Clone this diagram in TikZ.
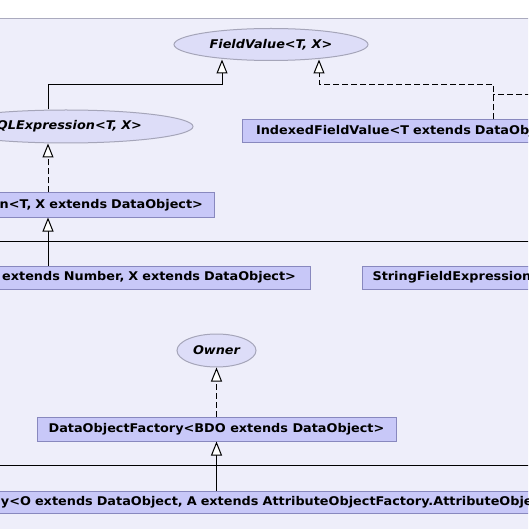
\documentclass[tikz,border=0pt]{standalone}
\usepackage{fontspec}
\setmainfont{DejaVu Sans}[FakeStretch=1.07]
\usetikzlibrary{arrows.meta,shapes.geometric}
\definecolor{bgc}{RGB}{238,238,250}
\definecolor{framec}{RGB}{170,170,190}
\definecolor{boxfill}{RGB}{200,200,248}
\definecolor{boxdraw}{RGB}{136,136,190}
\definecolor{ellfill}{RGB}{221,221,248}
\definecolor{elldraw}{RGB}{165,165,185}
\begin{document}
\begin{tikzpicture}[x=1pt,y=-1pt,
  font=\fontsize{12}{14}\selectfont\bfseries,
  umlbox/.style={rectangle, draw=boxdraw, fill=boxfill, line width=1pt, inner sep=0pt},
  umlif/.style={ellipse, draw=elldraw, fill=ellfill, line width=1pt, inner sep=0pt,
                font=\fontsize{12}{14}\selectfont\bfseries\itshape},
  plainline/.style={draw=black, line width=1pt},
  dashline/.style={plainline, dash pattern=on 6pt off 3pt},
  inh/.style={plainline, -{Triangle[length=14pt,width=11pt,fill=white]}},
  impl/.style={inh, dash pattern=on 6pt off 3pt}]
\useasboundingbox (0,0) rectangle (528,529);
\clip (0,0) rectangle (528,529);
\fill[white] (0,0) rectangle (528,529);
\fill[bgc] (-5,19) rectangle (540,540);
\draw[framec, line width=1pt] (-5,19) -- (540,19);

% nodes
\node[umlif, minimum width=194pt, minimum height=32pt] (fv) at (271,44.5) {FieldValue<T, X>};
\node[umlif, minimum width=254pt, minimum height=33pt, text width=152pt, align=right] (ql) at (66,126.5) {QLExpression<T, X>};
\node[umlbox, minimum width=502pt, minimum height=23pt, text width=474pt, align=left] (ifv) at (493,131.5) {IndexedFieldValue<T extends DataObject};
\node[umlbox, minimum width=332pt, minimum height=24pt, text width=310pt, align=right] (b2) at (48,205) {n<T, X extends DataObject>};
\node[umlbox, minimum width=600pt, minimum height=23pt, text width=572pt, align=right] (b3) at (10,277.5) {extends Number, X extends DataObject>};
\node[umlbox, minimum width=476pt, minimum height=23pt, text width=455pt, align=left] (sfe) at (600,277.5) {StringFieldExpression};
\node[umlif, minimum width=79pt, minimum height=33pt] (own) at (216.5,350.5) {Owner};
\node[umlbox, minimum width=359pt, minimum height=24pt] (dof) at (216.5,429) {DataObjectFactory<BDO extends DataObject>};
\node[umlbox, minimum width=1200pt, minimum height=22pt, text width=798pt, align=left] (bot) at (400,502) {y<O extends DataObject, A extends AttributeObjectFactory.AttributeObject};

% connectors
\draw[inh] (ql.north -| b2.north) -- ++(0,-25) -| ([xshift=-49pt,yshift=1.5pt]fv.south);
\draw[impl] (ifv.north) -- ++(0,-35) -| ([xshift=48pt,yshift=1.5pt]fv.south);
\coordinate (offR) at (540,95);
\draw[dashline] (offR) -- (offR -| ifv.north);
\draw[impl] (b2.north) -- (b2.north |- ql.south);
\coordinate (hl1) at (-10,241);
\coordinate (hr1) at (540,241);
\draw[plainline] (hl1) -- (hr1);
\draw[inh] (b3.north -| b2.south) -- (b2.south);
\draw[impl] (dof.north) -- (own.south);
\coordinate (hl2) at (-10,465);
\coordinate (hr2) at (540,465);
\draw[plainline] (hl2) -- (hr2);
\draw[inh] (bot.north -| dof.south) -- (dof.south);
\end{tikzpicture}
\end{document}
